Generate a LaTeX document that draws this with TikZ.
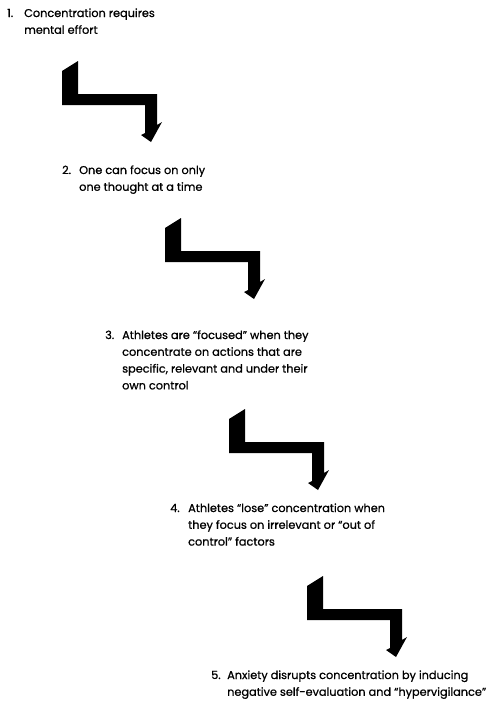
\documentclass[tikz,border=0pt]{standalone}
\usepackage{fontspec}
\setmainfont{Poppins}[FakeBold=0.8]
\newcommand\stlines[1]{\vtop{\baselineskip=16.8pt\halign{##\hfil\cr #1\crcr}}}
\begin{document}
\begin{tikzpicture}[x=1pt,y=-1pt,
  num/.style={anchor=base west,inner sep=0pt,font=\fontsize{11.3}{16.8}\selectfont},
  body/.style={anchor=base west,inner sep=0pt,font=\fontsize{11.3}{16.8}\selectfont},
  zz/.style={fill=black}]
\useasboundingbox (0,0) rectangle (498,702);
\newcommand\zzarrow[2]{%
  \fill[zz,shift={(#1,#2)}] (0,-34) -- (16,-44) -- (16,-11) -- (95,-11) -- (95,20)
    -- (100,17) -- (89,37) -- (79,30) -- (83,28) -- (83,0) -- (0,0) -- cycle;}
% step 1
\node[num] (n1) at (7,17) {1.};
\node[body] (t1) at (24,17) {\stlines{Concentration requires\cr mental effort}};
\zzarrow{62}{105}
% step 2
\node[num] (n2) at (62,174) {2.};
\node[body] (t2) at (79,174) {\stlines{One can focus on only\cr one thought at a time}};
\zzarrow{165}{262}
% step 3
\node[num] (n3) at (105,339) {3.};
\node[body] (t3) at (122,339) {\stlines{Athletes are “focused” when they\cr concentrate on actions that are\cr specific, relevant and under their\cr own control}};
\zzarrow{229}{453}
% step 4
\node[num] (n4) at (170,512) {4.};
\node[body] (t4) at (188,512) {\stlines{Athletes “lose” concentration when\cr they focus on irrelevant or “out of\cr control” factors}};
\zzarrow{307}{620}
% step 5
\node[num] (n5) at (211,679) {5.};
\node[body] (t5) at (227,679) {\stlines{Anxiety disrupts concentration by inducing\cr negative self-evaluation and “hypervigilance”}};
\end{tikzpicture}
\end{document}
